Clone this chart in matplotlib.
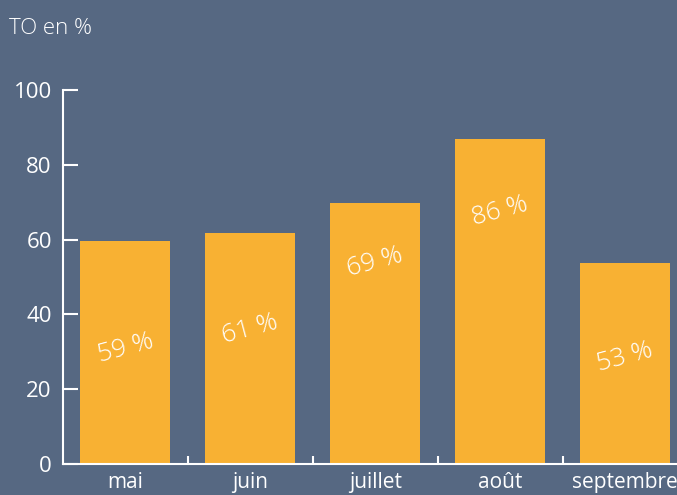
import matplotlib
matplotlib.use("Agg")
import matplotlib.pyplot as plt

mois = ["mai", "juin", "juillet", "août", "septembre"]
valeurs = [59.6, 61.8, 69.8, 86.9, 53.7]
etiquettes = ["59 %", "61 %", "69 %", "86 %", "53 %"]
hauteur_etiq = [31, 36, 54, 67.5, 28.5]

fond = "#566882"
orange = "#F8B133"

plt.rcParams['font.family'] = ['Open Sans', 'DejaVu Sans']

fig = plt.figure(figsize=(6.77, 4.95), dpi=100, facecolor=fond)
ax = fig.add_axes([0.093, 0.0626, 0.9225, 0.7556])
ax.set_facecolor(fond)

x = range(len(mois))
ax.bar(x, valeurs, width=0.72, color=orange, zorder=2)

for i, (h, t) in enumerate(zip(hauteur_etiq, etiquettes)):
    ax.text(i, h, t, color="white", fontsize=18.5, fontweight="light",
            rotation=15, ha="center", va="center", zorder=3)

ax.set_xlim(-0.5, 4.5)
ax.set_ylim(0, 100)
ax.set_yticks([0, 20, 40, 60, 80, 100])
ax.set_xticks(list(x))
ax.set_xticklabels(mois)
ax.set_xticks([0.5, 1.5, 2.5, 3.5], minor=True)

ax.tick_params(axis="y", direction="in", length=11, width=1.5, color="white",
               labelcolor="white", labelsize=16, pad=8)
ax.tick_params(axis="x", which="major", length=0, labelcolor="white",
               labelsize=15, pad=6)
ax.tick_params(axis="x", which="minor", direction="in", length=6, width=1.5,
               color="white")

for s in ["top", "right"]:
    ax.spines[s].set_visible(False)
for s in ["left", "bottom"]:
    ax.spines[s].set_color("white")
    ax.spines[s].set_linewidth(1.5)
    ax.spines[s].set_zorder(4)

fig.text(0.013, 0.943, "TO en %", color="white", fontsize=16,
         fontweight="light", ha="left", va="center")

fig.savefig("out.png", dpi=100, facecolor=fond)
